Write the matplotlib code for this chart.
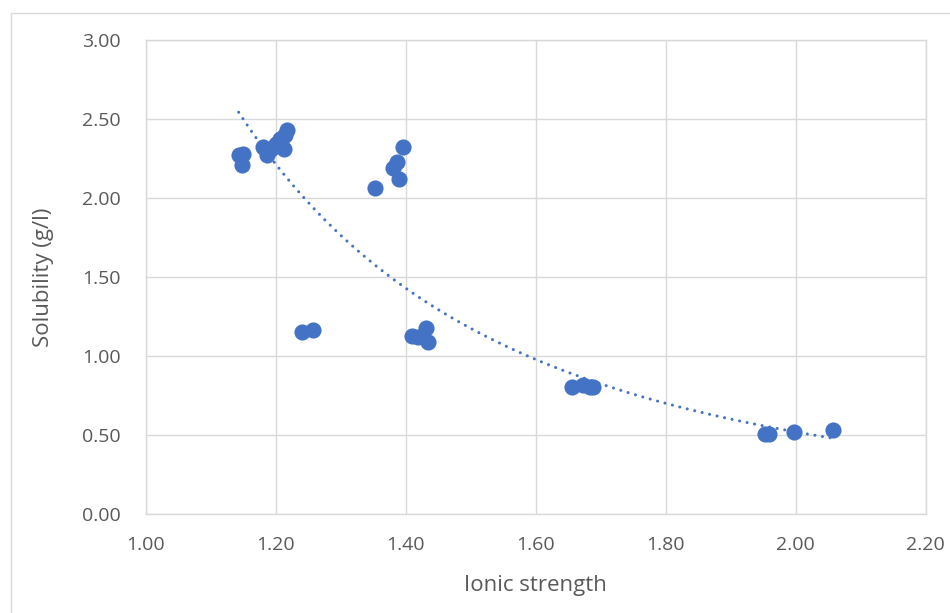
import numpy as np
import matplotlib
matplotlib.use("Agg")
import matplotlib.pyplot as plt
from matplotlib.lines import Line2D

# ionic strength vs solubility
ionic = [1.143, 1.150, 1.148,
         1.180, 1.187, 1.193, 1.200, 1.207, 1.213, 1.215, 1.218, 1.210,
         1.240, 1.258,
         1.353, 1.381, 1.386, 1.389, 1.396,
         1.409, 1.419, 1.431, 1.435,
         1.656, 1.673, 1.684, 1.688,
         1.953, 1.959, 1.997, 2.057]
solub = [2.27, 2.28, 2.21,
         2.32, 2.27, 2.31, 2.34, 2.37, 2.31, 2.40, 2.43, 2.38,
         1.15, 1.165,
         2.06, 2.19, 2.23, 2.12, 2.32,
         1.127, 1.12, 1.175, 1.09,
         0.80, 0.815, 0.80, 0.80,
         0.506, 0.506, 0.515, 0.527]

xticks = [1.00, 1.20, 1.40, 1.60, 1.80, 2.00, 2.20]
yticks = [0.00, 0.50, 1.00, 1.50, 2.00, 2.50, 3.00]

blue = "#4472C4"
grid = "#D9D9D9"
txt = "#595959"

plt.rcParams["font.family"] = ["Open Sans", "DejaVu Sans"]

fig = plt.figure(figsize=(9.5, 6.13), dpi=100)
ax = fig.add_axes([145.7 / 950, 1 - 513.7 / 613, (925.7 - 145.7) / 950, (513.7 - 40) / 613])

# chart frame (only the top and left edges are in view)
fx, fy = 10.5 / 950, 1 - 13 / 613
fig.add_artist(Line2D([fx, fx], [0, fy], color=grid, lw=1, transform=fig.transFigure))
fig.add_artist(Line2D([fx, 1.0], [fy, fy], color=grid, lw=1, transform=fig.transFigure))

ax.scatter(ionic, solub, s=135, color=blue, zorder=3, linewidths=0)

# power trendline, like Excel
x = np.array(ionic)
b, lna = np.polyfit(np.log(x), np.log(solub), 1)
xs = np.linspace(x.min(), x.max(), 200)
ax.plot(xs, np.exp(lna) * xs ** b, color=blue, lw=2.2, linestyle=(0, (0.01, 2.5)),
        dash_capstyle="round", zorder=2)

ax.set_xlim(1.0, 2.2)
ax.set_ylim(0, 3.0)
ax.set_xticks(xticks)
ax.set_yticks(yticks)
ax.set_xticklabels([f"{v:.2f}" for v in xticks])
ax.set_yticklabels([f"{v:.2f}" for v in yticks])
ax.tick_params(length=0, labelsize=14, colors=txt)
ax.tick_params(axis="x", pad=16)
ax.tick_params(axis="y", pad=18)
ax.grid(True, color=grid, lw=1)
ax.set_axisbelow(True)
for s in ax.spines.values():
    s.set_color(grid)
    s.set_linewidth(1)

ax.set_xlabel("Ionic strength", fontsize=16, color=txt, labelpad=15)
ax.set_ylabel("Solubility (g/l)", fontsize=16, color=txt, labelpad=20)

fig.savefig("out.png", dpi=100)
